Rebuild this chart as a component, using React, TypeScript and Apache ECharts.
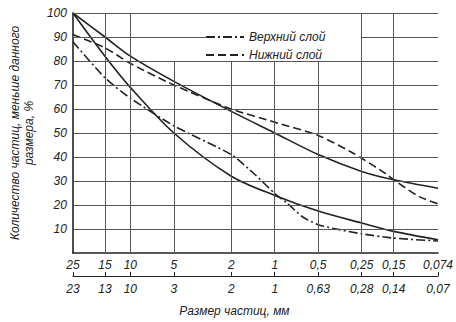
import React, { useEffect, useRef } from "react";
import * as echarts from "echarts";

// particle sizes (mm) at the grid positions
const sizeTicks = [25, 15, 10, 5, 2, 1, 0.5, 0.25, 0.15, 0.074];
const sizeTicks2 = ["23", "13", "10", "3", "2", "1", "0,63", "0,28", "0,14", "0,07"];
const yTicks = [10, 20, 30, 40, 50, 60, 70, 80, 90, 100];

// [size mm, percent passing]
const upperBound: [number, number][] = [
  [25, 100], [15, 90], [10, 82], [5, 71.5], [2, 59], [1, 50], [0.5, 41], [0.25, 34], [0.15, 30.5], [0.074, 27],
];
const lowerBound: [number, number][] = [
  [25, 100], [15, 82], [10, 69], [5, 50], [2, 32], [1, 24], [0.5, 17.5], [0.25, 12.5], [0.15, 9], [0.074, 5.5],
];
const topLayer: [number, number][] = [
  [25, 88], [15, 73], [10, 64.5], [5, 53], [2, 41], [1.36, 32.5], [1, 24.8], [0.81, 20.5],
  [0.64, 15], [0.5, 11.8], [0.39, 10.2], [0.25, 8], [0.15, 6.2], [0.074, 5],
];
const bottomLayer: [number, number][] = [
  [25, 91], [15, 85.5], [10, 79], [5, 70], [2, 60], [1, 54.5], [0.5, 49], [0.3, 42.3], [0.25, 39.5],
  [0.17, 33], [0.15, 30.5], [0.1, 23.5], [0.074, 20.5],
];

const FONT = "Liberation Sans";
const INK = "#222";
const GRID = "#555";

export default function App() {
  const ref = useRef<HTMLDivElement>(null);
  useEffect(() => {
    document.body.style.margin = "0";
    const chart = echarts.init(ref.current!, null, { renderer: "svg" });
    const fmt = (v: number) => String(v).replace(".", ",");
    const fmt2 = (v: number) => {
      let bi = 0;
      let bd = Infinity;
      sizeTicks.forEach((t, i) => {
        const d = Math.abs(Math.log(t) - Math.log(v));
        if (d < bd) { bd = d; bi = i; }
      });
      return sizeTicks2[bi];
    };
    const xMin = sizeTicks[sizeTicks.length - 1];
    const xMax = sizeTicks[0];
    const gridLines: any[] = [];
    sizeTicks.forEach((s) => {
      if (s === 5 || s === 2 || s === 1 || s === 0.5) {
        gridLines.push([{ coord: [s, 0] }, { coord: [s, 80] }]);
      } else if (s !== 25) {
        gridLines.push({ xAxis: s });
      }
    });
    yTicks.forEach((y) => {
      if (y === 90) {
        gridLines.push([{ coord: [xMax, 90] }, { coord: [2.94, 90] }]);
        gridLines.push([{ coord: [0.25, 90] }, { coord: [xMin, 90] }]);
      } else {
        gridLines.push({ yAxis: y });
      }
    });

    const curveStyle = (type: any) => ({ color: INK, width: 1.6, type });
    const curve = (name: string, data: [number, number][], type: any, smooth: number) => ({
      name,
      type: "line",
      data,
      smooth,
      showSymbol: false,
      symbol: "none",
      z: 3,
      itemStyle: { color: INK },
      lineStyle: curveStyle(type),
    });
    chart.setOption({
      animation: false,
      grid: { left: 56, right: 16, top: 13, bottom: 63, containLabel: false },
      legend: {
        data: ["Верхний слой", "Нижний слой"],
        orient: "vertical",
        left: 200,
        top: 26,
        itemWidth: 38,
        itemHeight: 8,
        itemGap: 6,
        itemStyle: { opacity: 0 },
        textStyle: { fontFamily: FONT, fontStyle: "italic", fontSize: 12, color: INK },
      },
      xAxis: [
        {
          type: "log",
          logBase: 10,
          min: xMin,
          max: xMax,
          inverse: true,
          position: "bottom",
          axisLine: { show: true, lineStyle: { color: INK, width: 1.6 } },
          axisTick: { show: false },
          minorTick: { show: false },
          splitLine: { show: false },
          axisLabel: {
            customValues: sizeTicks,
            formatter: fmt,
            margin: 6,
            fontFamily: FONT,
            fontStyle: "italic",
            fontSize: 12,
            color: INK,
          },
        },
        {
          type: "log",
          logBase: 10,
          min: xMin,
          max: xMax,
          inverse: true,
          position: "bottom",
          offset: 23,
          axisLine: { show: true, lineStyle: { color: INK, width: 1 } },
          axisTick: { show: true, customValues: sizeTicks, inside: true, length: 4, lineStyle: { color: INK } },
          minorTick: { show: false },
          splitLine: { show: false },
          axisLabel: {
            customValues: sizeTicks,
            formatter: fmt2,
            margin: 7,
            fontFamily: FONT,
            fontStyle: "italic",
            fontSize: 12,
            color: INK,
          },
          name: "Размер частиц, мм",
          nameLocation: "middle",
          nameGap: 29,
          nameTextStyle: {
            fontFamily: FONT,
            fontStyle: "italic",
            fontSize: 12,
            color: INK,
            padding: [0, 42, 0, 0],
          },
        },
      ],
      yAxis: {
        type: "value",
        min: 0,
        max: 100,
        interval: 10,
        axisLine: { show: true, lineStyle: { color: INK, width: 1.6 } },
        axisTick: { show: false },
        splitLine: { show: false },
        axisLabel: {
          formatter: (v: number) => (v === 0 ? "" : String(v)),
          margin: 6,
          fontFamily: FONT,
          fontStyle: "italic",
          fontSize: 12,
          color: INK,
        },
        name: "Количество частиц, меньше данного\nразмера, %",
        nameLocation: "middle",
        nameRotate: 90,
        nameGap: 30,
        nameTextStyle: {
          fontFamily: FONT,
          fontStyle: "italic",
          fontSize: 12,
          lineHeight: 14,
          color: INK,
        },
      },
      series: [
        {
          name: "grid",
          type: "line",
          data: [],
          z: 1,
          silent: true,
          markLine: {
            silent: true,
            symbol: "none",
            label: { show: false },
            lineStyle: { color: GRID, width: 1, type: "solid" },
            data: gridLines,
          },
        },
        curve("Верхняя граница", upperBound, "solid", 0.3),
        curve("Нижняя граница", lowerBound, "solid", 0.3),
        curve("Верхний слой", topLayer, [9, 3, 2, 3], 0.2),
        curve("Нижний слой", bottomLayer, [8, 4], 0.25),
      ],
    });
    return () => chart.dispose();
  }, []);
  return <div ref={ref} style={{ width: 456, height: 322, background: "#fff" }} />;
}
